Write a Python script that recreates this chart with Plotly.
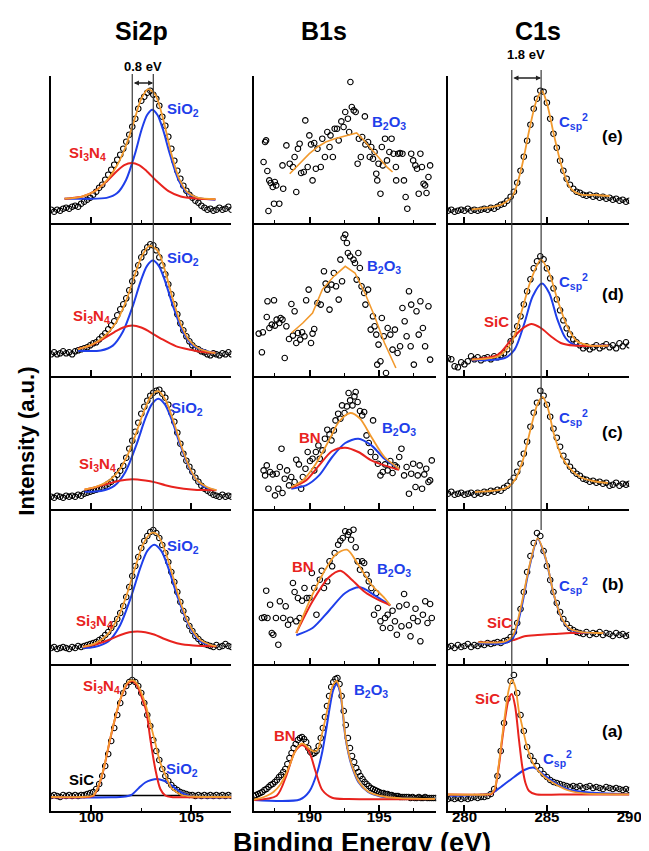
import numpy as np
import plotly.graph_objects as go

# ---------------- DATA (intensity in arbitrary units) ----------------
# Si2p: measured points on a 0.15 eV grid starting at 98.0 eV
si_start, si_step = 98.0, 0.15
si_e_pts = [13,11,13,12,14,15,14,16,17,16,19,21,23,25,28,31,35,38,43,48,53,58,63,68,74,81,88,96,104,114,122,126,130,132,128,124,117,106,97,86,74,62,52,44,37,32,28,25,22,20,17,15,13,14,12,13,15,13,14,16,13]
si_d_pts = [22,24,22,23,25,23,24,22,25,26,27,28,29,31,33,34,37,40,43,47,51,55,61,67,72,78,86,95,103,111,119,124,129,132,131,126,119,111,102,92,82,72,62,53,46,40,35,31,28,27,25,24,22,21,23,22,21,23,22,24,22]
si_c_pts = [12,11,13,12,11,13,12,13,12,14,13,15,16,17,18,19,20,21,23,25,27,30,34,38,43,51,60,68,77,86,95,102,108,113,116,118,119,115,111,104,96,87,76,65,55,48,42,37,31,27,23,20,18,16,14,13,12,14,12,13,12]
si_b_pts = [16,17,15,16,17,16,15,17,16,18,17,18,19,20,21,22,24,26,29,32,36,40,45,51,58,67,77,88,98,107,116,123,128,132,134,131,126,119,111,102,92,82,72,62,53,45,38,33,28,25,22,20,19,18,17,19,17,18,20,18,17]
si_a_pts = [15,16,15,14,16,15,16,15,16,15,16,16,17,18,19,22,27,35,45,57,70,83,96,108,118,125,129,131,129,125,118,108,96,85,71,60,51,42,35,30,26,23,21,19,18,17,16,16,15,16,15,16,15,16,15,16,15,16,15,16,15]

# Si2p fitted components: (energy, intensity)
si_e_sio2 = [(98.67,24),(99.8,24),(100.77,24.8),(101.3,29.6),(101.74,42.7),(102.18,68.5),(102.52,93.4),(102.79,107.7),(103.05,113),(103.31,107.7),(103.58,93.4),(103.93,68.5),(104.36,42.7),(104.8,29.6),(105.33,24.8),(106.2,23)]
si_e_si3n4 = [(98.67,24),(98.83,24.3),(99.57,26.2),(100.18,31.5),(100.8,41.9),(101.29,51.8),(101.65,57.6),(102.02,59.7),(102.39,57.6),(102.76,51.8),(103.25,41.9),(103.86,31.5),(104.47,26.2),(105.2,24.3),(106.2,23.5)]
si_e_sum = [(98.67,24),(99.5,25.9),(100.2,31.7),(100.8,42.8),(101.3,57.7),(101.7,75.2),(102.1,98.8),(102.5,123.8),(102.85,133.5),(103.2,128),(103.6,103),(104.0,69),(104.4,43.7),(104.8,30.6),(105.3,25.2),(106.2,23.5)]

si_d_sio2 = [(99.34,25.5),(100.48,25.8),(101.08,30.7),(101.58,44.5),(102.08,70.4),(102.48,95.7),(102.78,110.2),(103.08,115.7),(103.38,110.2),(103.68,95.7),(104.08,70.4),(104.58,44.5),(105.08,30.7),(105.68,25.8),(106.2,23)]
si_d_si3n4 = [(99.34,27.5),(99.88,30.2),(100.6,37.5),(101.18,44.5),(101.6,48.8),(102.05,50.7),(102.5,48.8),(102.92,44.5),(103.5,37.5),(104.22,30.2),(104.95,26.6),(105.6,24.3),(106.2,23.5)]
si_d_sum = [(99.34,27),(100.0,31.4),(100.6,38.8),(101.2,52.5),(101.7,73.2),(102.1,96.6),(102.5,119),(102.9,130.5),(103.3,126),(103.7,104.7),(104.1,75.4),(104.5,50.9),(104.9,35.8),(105.4,27.5),(106.2,23)]

si_c_sio2 = [(99.67,17),(100.49,17.8),(101.15,22.8),(101.7,36.5),(102.25,63.5),(102.69,89.5),(103.02,104.4),(103.35,110),(103.68,104.4),(104.01,89.5),(104.45,63.5),(105.0,36.5),(105.55,23),(106.21,18.5)]
si_c_si3n4 = [(99.67,19),(100.3,22),(100.9,25.3),(101.4,28),(102.05,29.5),(102.7,28.2),(103.2,26.3),(103.7,23.5),(104.3,21),(105.0,19.3),(105.6,18.6),(106.25,18.5)]
si_c_sum = [(99.67,19.2),(100.3,22.4),(100.9,28.3),(101.4,38.5),(101.8,52.8),(102.2,73),(102.6,95.8),(103.0,113.3),(103.35,117.5),(103.7,109.2),(104.1,87.9),(104.5,62.7),(104.9,41.5),(105.3,28),(105.8,21.4),(106.25,18.5)]

si_b_sio2 = [(99.59,16),(100.16,17),(100.85,22.5),(101.43,38.3),(102.0,67.7),(102.46,96.6),(102.8,113.1),(103.15,119.3),(103.5,113.1),(103.84,96.6),(104.3,67.7),(104.88,38.3),(105.45,22.5),(106.25,17.7)]
si_b_si3n4 = [(99.59,17.2),(100.2,19.5),(100.9,24.3),(101.46,29),(101.9,31.7),(102.3,32.5),(102.7,31.8),(103.14,29.5),(103.7,24.8),(104.4,20.2),(105.1,18.5),(106.25,17.7)]
si_b_sum = [(99.59,17.2),(100.2,20.6),(100.8,29.1),(101.4,49.1),(101.8,70.8),(102.2,96.8),(102.6,120.2),(103.0,131),(103.3,129.6),(103.7,112.5),(104.1,86),(104.5,59.2),(104.9,39.2),(105.4,24.8),(105.9,19.5),(106.25,17.7)]

si_a_si3n4 = [(98.0,13.7),(99.5,13.7),(100.1,15),(100.35,24),(100.6,40),(100.95,72),(101.25,97),(101.5,114),(101.8,127),(102.05,130),(102.3,125),(102.55,112),(102.75,100),(102.95,72),(103.2,42),(103.45,22),(103.7,15.5),(104.0,14),(105.0,13.7),(107.0,13.7)]
si_a_sio2 = [(98.0,13.7),(101.0,13.7),(101.7,14.5),(102.0,16),(102.38,23),(102.7,28.5),(103.0,31),(103.3,32),(103.6,30.5),(103.9,27.5),(104.18,23),(104.5,18.5),(104.8,15.5),(105.2,14),(107.0,13.7)]
si_a_sum = [(98.0,14),(99.5,14),(100.1,15.5),(100.35,24.5),(100.6,40.5),(100.95,72.5),(101.25,97.5),(101.5,114.5),(101.8,128),(102.05,131),(102.3,127),(102.55,116),(102.75,104),(102.95,88),(103.2,68),(103.38,53),(103.55,43),(103.7,36),(103.85,29),(104.0,23),(104.25,19),(104.5,16),(105.0,14.5),(107.0,14)]
si_a_sic = [(100.1,15.5),(105.0,15.5)]

# B1s measured points (energy, intensity)
b_e_pts = [(186.69,60.7),(186.8,80.7),(186.87,82.3),(186.96,51.7),(187.04,11.7),(187.1,42.3),(187.2,39.7),(187.35,35.7),(187.44,19),(187.5,40.7),(187.6,37.3),(187.82,19),(188.05,57.3),(188.1,34),(188.33,77.3),(188.57,59),(188.8,55.7),(188.92,65.7),(189.04,30.7),(189.16,74),(189.28,79),(189.39,49.7),(189.58,50.7),(189.69,102.3),(189.86,55.7),(189.98,87.3),(190.1,78.3),(190.21,42.3),(190.33,79.7),(190.45,54),(190.56,74),(190.8,55.7),(190.91,84),(191.1,65.7),(191.27,90.7),(191.43,75.7),(191.5,87.3),(191.67,65.7),(191.8,94),(191.97,94),(192.09,82.3),(192.28,101.3),(192.44,95.7),(192.56,110.7),(192.75,104),(192.84,90.7),(192.93,140.7),(193.03,115.7),(193.17,112.3),(193.31,110.7),(193.45,59),(193.54,84),(193.68,65.7),(193.78,85.7),(193.97,106.3),(194.01,78.3),(194.2,80.7),(194.32,65.7),(194.43,75.7),(194.55,64),(194.67,70.7),(194.79,49),(194.86,42.3),(194.95,59),(195.09,29),(195.19,75.7),(195.26,57.3),(195.42,84),(195.56,62.3),(195.73,70.7),(195.89,84),(196.03,69),(196.2,55.7),(196.22,42.3),(196.36,69),(196.5,69.7),(196.67,69),(196.78,42.3),(196.9,25.7),(197.02,14),(197.3,69),(197.44,62.3),(197.6,57.3),(197.72,54),(197.84,29),(197.96,69),(198.07,55.7),(198.19,39),(198.3,37.3),(198.4,29.7),(198.54,45.7),(198.66,57.3)]
b_d_pts = [(186.34,42.7),(186.57,24),(186.64,44),(186.92,59.3),(186.97,75),(187.11,48.3),(187.28,51.7),(187.44,76),(187.51,50.7),(187.63,56.7),(187.82,53.3),(187.91,58.3),(188.05,56.7),(188.21,18.3),(188.33,50),(188.52,37.3),(188.69,72.3),(188.8,40.7),(188.92,65),(189.04,33.3),(189.16,43.3),(189.32,36.7),(189.46,44),(189.63,40),(189.75,76),(189.93,86.7),(190.1,33.3),(190.21,42.7),(190.33,47.3),(190.56,73.3),(190.8,71.7),(191.03,105),(191.15,92.7),(191.27,86.7),(191.43,66.7),(191.57,91.7),(191.74,103.3),(191.9,90),(192.09,76.7),(192.21,116.7),(192.33,95),(192.44,138.3),(192.56,141.7),(192.68,133.3),(192.75,123.3),(192.91,120),(193.15,116.7),(193.26,113.3),(193.38,96.7),(193.5,123.3),(193.61,108.3),(193.73,90),(193.92,83.3),(194.01,71.7),(194.2,86.7),(194.39,46.7),(194.55,60),(194.67,50),(194.79,41.7),(194.86,11.7),(194.95,31.7),(195.09,15),(195.19,58.3),(195.33,40),(195.49,3.3),(195.61,48.3),(195.8,41.7),(195.96,26.7),(196.13,46.7),(196.32,23.3),(196.5,30),(196.67,68.3),(196.83,55),(196.97,40),(197.14,85),(197.26,30),(197.3,71.7),(197.49,11.7),(197.68,65),(197.84,41.7),(197.96,75),(198.14,48.3),(198.3,30),(198.54,70),(198.66,16.7)]
b_c_pts = [(186.69,38.3),(186.8,33.3),(186.92,43.3),(187.04,20),(187.16,36.7),(187.35,34.3),(187.51,13.3),(187.63,35),(187.75,20),(187.86,41.7),(187.98,60),(188.05,15.7),(188.21,30),(188.38,38.3),(188.52,23.3),(188.68,31.7),(188.92,26.7),(189.04,49),(189.23,44.3),(189.39,20),(189.51,31.7),(189.7,40),(189.86,56.7),(190.03,47.7),(190.21,50),(190.33,38.3),(190.45,56.7),(190.63,63.3),(190.73,50),(190.92,58.3),(191.1,70),(191.27,79),(191.43,74.3),(191.57,68.3),(191.74,78.3),(191.86,88.3),(192.05,95),(192.21,90),(192.33,103.3),(192.51,95.7),(192.68,102.3),(192.8,115.7),(192.91,108.3),(193.08,103.3),(193.22,112.3),(193.31,116.7),(193.45,106.7),(193.62,97.7),(193.78,93.3),(193.92,96.7),(194.09,73.3),(194.25,65.7),(194.39,56.7),(194.56,88.3),(194.72,51.7),(194.91,45),(195.09,33.3),(195.26,36.7),(195.42,44.3),(195.61,38.3),(195.8,47.7),(195.96,35.7),(196.13,43.3),(196.27,41.7),(196.44,51.7),(196.6,60),(196.79,33.3),(196.97,41.7),(197.14,15),(197.3,35),(197.44,45),(197.61,21.7),(197.77,33.3),(197.91,43.3),(198.08,20),(198.24,34.3),(198.38,40),(198.54,26.7),(198.66,28.3),(198.78,48.3)]
b_b_pts = [(186.57,46),(186.74,46.7),(186.88,73.3),(186.97,46),(187.16,59.3),(187.28,31),(187.39,29.3),(187.58,46),(187.75,19.3),(187.86,62.7),(188.1,46),(188.28,57.7),(188.45,39.3),(188.61,44.3),(188.8,81),(188.92,72),(189.04,42.7),(189.16,66),(189.28,46),(189.46,63.3),(189.63,76),(189.79,66),(189.98,66),(190.16,91),(190.33,76),(190.49,49.3),(190.73,84.3),(190.87,93.3),(191.03,76),(191.27,82.7),(191.43,102.7),(191.62,97.7),(191.8,111),(192.05,119.3),(192.21,123.3),(192.38,126),(192.56,132.7),(192.75,129.3),(192.84,132),(192.98,124.3),(193.15,134.3),(193.31,116.7),(193.45,102.7),(193.62,94.3),(193.78,102.7),(193.92,101),(194.09,89.3),(194.25,82.7),(194.44,76),(194.63,49.3),(194.79,71),(194.91,56),(195.09,42.7),(195.26,36),(195.42,46),(195.61,49.3),(195.8,36),(195.96,53.3),(196.13,42.7),(196.27,29.3),(196.44,57.7),(196.6,37.7),(196.79,70),(196.97,59.3),(197.14,38.7),(197.25,27.7),(197.44,46),(197.61,55.3),(197.77,42.7),(197.96,22.7),(198.14,49.3),(198.31,62.7),(198.47,41),(198.66,60),(198.78,46)]
b_start, b_step = 186.0, 0.15
b_a_pts = [15,16,17,18,19,21,22,24,26,27,29,31,34,36,39,42,47,53,58,63,67,71,73,74,72,69,63,59,57,58,60,65,73,83,94,105,115,124,129,132,133,127,115,100,86,73,63,55,49,43,39,35,32,29,27,25,23,22,21,20,19,18,18,17,17,16,16,15,15,15,14,14,14,14,14,13,14,13,13,14,13,13,14,13,13,13,13,13]

# B1s fitted curves
b_e_sum = [(188.57,49),(189.2,58),(189.98,69),(190.6,76),(191.15,80.7),(191.8,84),(192.33,85.7),(192.9,88),(193.38,89.7),(193.8,84),(194.2,77.3),(194.7,70),(195.14,62.3),(195.6,55),(195.96,50.7)]
b_d_sum = [(188.69,43.3),(189.51,53.3),(190.21,63.3),(190.91,86.7),(191.74,100),(192.56,110),(193.26,103.3),(193.97,83.3),(194.67,60),(195.38,33.3),(196.2,8.3)]
b_c_sum = [(188.68,21.7),(189.51,28.3),(190.45,45),(191.39,68.3),(192.09,86.7),(192.92,95.7),(193.62,90),(194.44,71.7),(195.38,51.7),(196.44,40)]
b_c_b2o3 = [(188.68,20),(189.74,23.3),(190.68,33.3),(191.62,51.7),(192.56,65.7),(193.5,70),(194.44,63.3),(195.38,50),(196.44,40)]
b_c_bn = [(188.68,21),(189.74,28.3),(190.68,43.3),(191.62,57.7),(192.56,61),(193.5,56.7),(194.44,48.3),(195.38,43.3),(196.44,39)]
b_b_sum = [(189.04,31),(189.98,62.7),(190.92,89.3),(191.86,109.3),(192.68,114.3),(193.5,99.3),(194.44,79.3),(195.38,66),(195.8,58.7)]
b_b_b2o3 = [(189.04,28.7),(190.21,36),(191.39,53.3),(192.56,71),(193.62,76.7),(194.67,68.7),(195.8,58.7)]
b_b_bn = [(189.04,31),(190.21,62.7),(191.39,86.7),(192.21,93.3),(193.03,84.3),(193.97,72),(194.91,64.3),(195.8,58.7)]
b_a_b2o3 = [(186.0,11),(189.3,11.5),(189.97,19.3),(190.56,39.3),(190.91,59.3),(191.2,82),(191.45,104),(191.7,121),(191.95,127),(192.2,118),(192.4,96),(192.56,75),(192.8,57),(193.03,45),(193.5,29),(194.2,19),(195.1,14.5),(196.5,12.5),(199.0,12)]
b_a_bn = [(186.0,11),(187.63,15.3),(188.34,36),(188.93,59),(189.46,66),(189.97,59),(190.44,39),(190.91,21),(191.62,13.3),(192.8,12),(199.0,12)]
b_a_sum = [(186.0,11.5),(186.5,13),(186.93,15.3),(187.4,19),(187.87,26),(188.3,37),(188.57,46),(188.9,58),(189.2,65),(189.45,67.7),(189.7,66),(190.0,62),(190.3,59.5),(190.56,61),(190.8,72),(191.1,90),(191.4,110),(191.65,125),(191.95,130),(192.2,120),(192.4,98),(192.56,76),(192.8,58),(193.03,46),(193.5,30),(194.2,19.5),(195.1,15),(196.5,12.8),(199.0,12)]

# C1s measured points on a 0.2 eV grid starting at 279.0 eV
c_start, c_step = 279.0, 0.2
c_e_pts = [12,13,11,12,13,12,14,12,13,12,13,14,13,15,14,16,18,19,22,26,31,40,52,66,82,98,114,124,132,131,120,104,89,75,62,52,44,38,34,31,30,28,27,28,26,27,25,26,24,25,23,24,22,23,21,22]
c_d_pts = [18,17,10,9,14,12,15,20,17,19,16,18,19,17,20,19,21,23,27,35,42,50,60,72,85,97,108,115,120,117,108,98,88,77,66,56,48,42,37,34,31,28,30,27,29,31,28,30,32,29,31,28,33,30,34,31]
c_c_pts = [15,17,14,15,16,14,15,16,14,16,15,17,16,18,17,19,18,21,23,27,31,37,45,55,67,82,96,106,118,113,104,92,80,71,62,53,47,42,38,35,33,30,29,27,28,26,27,25,26,23,24,26,23,25,24,25]
c_b_pts = [17,18,16,19,17,18,20,17,19,18,20,19,21,20,21,22,21,23,24,27,32,41,55,72,92,108,121,131,128,113,98,84,72,61,52,45,40,36,34,32,31,30,32,29,31,30,32,29,31,30,28,31,29,30,28,29]
c_a_pts = [12,13,12,13,12,13,12,13,14,13,14,14,15,17,22,35,60,88,112,130,136,118,96,80,64,55,50,45,41,37,34,31,29,28,27,26,25,24,25,24,25,23,24,25,23,24,23,22,24,23,22,23,22,21,22,21]

# C1s fitted curves
c_e_sum = [(280.44,13.3),(281.4,15),(282.27,18.3),(282.96,28.3),(283.46,55),(283.96,95),(284.36,121.7),(284.7,131.7),(285.02,118.3),(285.42,88.3),(285.92,55),(286.41,35),(287.01,28.3),(288.0,27.7),(288.8,26.7)]
c_d_sum = [(280.44,16.7),(282.04,20),(282.84,33.3),(283.44,63.3),(284.04,96.7),(284.64,116.7),(285.14,103.3),(285.64,76.7),(286.23,50),(286.83,35),(287.63,30.7),(288.73,30.7)]
c_d_csp2 = [(280.44,16),(282.44,18.3),(283.04,26.7),(283.64,53.3),(284.14,80),(284.7,92.7),(285.14,83.3),(285.64,56.7),(286.13,38.3),(286.63,31.7),(288.73,30.7)]
c_d_sic = [(280.44,16.7),(282.04,21.7),(282.84,36.7),(283.44,46.7),(284.04,52.3),(284.64,48.3),(285.24,40),(285.84,33.3),(286.63,30.7),(288.73,30.7)]
c_c_sum = [(280.64,16.7),(282.43,20),(283.04,28.3),(283.54,48.3),(284.04,81.7),(284.44,105),(284.74,111.7),(285.04,101.7),(285.42,75),(285.92,51.7),(286.41,40),(287.01,31.7),(287.8,27.7),(288.7,25.7)]
c_b_sum = [(280.84,21.7),(282.43,22.3),(282.93,28.3),(283.44,58.3),(283.94,98.3),(284.44,125.7),(284.94,105),(285.44,68.3),(285.93,45),(286.43,35),(287.23,31.7),(288.43,31)]
c_b_csp2 = [(280.84,21),(282.43,21),(282.93,25.7),(283.44,55),(283.94,96.7),(284.44,125),(284.94,104.5),(285.44,68),(285.93,44.7),(286.43,34.3),(287.23,31.5),(288.43,31)]
c_b_sic = [(280.84,21.7),(282.43,21.7),(283.04,24.3),(283.64,27.7),(284.44,29),(285.44,30),(286.43,31),(287.43,31),(288.43,31)]
c_a_sic = [(279.0,16.5),(281.3,16.5),(281.63,17),(281.83,21),(282.07,43),(282.27,69),(282.47,93),(282.67,111),(282.87,117),(283.07,105),(283.3,72),(283.5,45),(283.7,28),(283.92,20),(284.32,16.7),(285.8,16.5),(290.0,16.5)]
c_a_csp2 = [(279.1,15.3),(281.63,17.7),(282.23,24.3),(283.03,34.3),(283.63,41),(284.23,43.3),(284.83,36),(285.62,26.7),(286.42,21),(287.42,18.7),(290.0,16.7)]
c_a_sum = [(279.0,16.5),(281.3,16.5),(281.63,17.5),(281.83,22),(282.07,45),(282.27,72),(282.47,98),(282.67,120),(282.87,131),(283.07,125),(283.3,100),(283.53,82.7),(283.82,62.7),(284.22,46),(284.83,34.3),(285.42,27.7),(286.22,21),(287.22,17.7),(290.0,16.7)]

# reference peak positions (vertical guide lines)
si_guides = [102.05, 103.1]
c_guides = [282.87, 284.65]

# ---------------- LAYOUT / STYLE ----------------
W, H = 649, 851
ORANGE = "#F29A2E"
BLUE = "#1F3FEA"
RED = "#E8231E"
FONT = "Liberation Sans"

col_ranges = [[98, 107], [186, 199.1], [279, 290]]
col_tick0 = [100, 190, 280]
col_px = [(44, 228), (251, 437), (449, 634)]
row_px = [(68, 214.7), (214.7, 368.3), (368.3, 500.7), (500.7, 656), (656, 803)]
ticklabel_line_px = 798

fig = go.Figure()


def ax_id(r, c):
    return r * 3 + c + 1


def add_points(r, c, xs, ys):
    k = ax_id(r, c)
    fig.add_trace(go.Scatter(x=xs, y=ys, mode="markers", xaxis=f"x{k}", yaxis=f"y{k}",
                             marker=dict(symbol="circle-open", size=5.5, color="black",
                                         line=dict(width=1.1, color="black")),
                             showlegend=False, hoverinfo="skip"))


def add_curve(r, c, pts, color, width=2.0, shape="spline"):
    k = ax_id(r, c)
    xs = [p[0] for p in pts]
    ys = [p[1] for p in pts]
    fig.add_trace(go.Scatter(x=xs, y=ys, mode="lines", xaxis=f"x{k}", yaxis=f"y{k}",
                             line=dict(color=color, width=width, shape=shape,
                                       smoothing=0.8 if shape == "spline" else None),
                             showlegend=False, hoverinfo="skip"))


def grid(start, step, vals):
    return [round(start + step * i, 3) for i in range(len(vals))]


# Si2p column (c=0), rows 0..4 = (e)..(a)
for r, pts in enumerate([si_e_pts, si_d_pts, si_c_pts, si_b_pts, si_a_pts]):
    add_points(r, 0, grid(si_start, si_step, pts), pts)
for r, (blue, red, tot) in enumerate([(si_e_sio2, si_e_si3n4, si_e_sum),
                                      (si_d_sio2, si_d_si3n4, si_d_sum),
                                      (si_c_sio2, si_c_si3n4, si_c_sum),
                                      (si_b_sio2, si_b_si3n4, si_b_sum)]):
    add_curve(r, 0, blue, BLUE)
    add_curve(r, 0, red, RED)
    add_curve(r, 0, tot, ORANGE, 1.8)
add_curve(4, 0, si_a_sic, "black", 1.6, "linear")
add_curve(4, 0, si_a_sio2, BLUE)
add_curve(4, 0, si_a_si3n4, RED)
add_curve(4, 0, si_a_sum, ORANGE, 1.8)

# B1s column (c=1)
for r, pts in enumerate([b_e_pts, b_d_pts, b_c_pts, b_b_pts]):
    add_points(r, 1, [p[0] for p in pts], [p[1] for p in pts])
add_points(4, 1, grid(b_start, b_step, b_a_pts), b_a_pts)
add_curve(0, 1, b_e_sum, ORANGE, 1.6, "linear")
add_curve(1, 1, b_d_sum, ORANGE, 1.6, "linear")
add_curve(2, 1, b_c_b2o3, BLUE)
add_curve(2, 1, b_c_bn, RED)
add_curve(2, 1, b_c_sum, ORANGE, 1.8)
add_curve(3, 1, b_b_b2o3, BLUE)
add_curve(3, 1, b_b_bn, RED)
add_curve(3, 1, b_b_sum, ORANGE, 1.8)
add_curve(4, 1, b_a_b2o3, BLUE)
add_curve(4, 1, b_a_bn, RED)
add_curve(4, 1, b_a_sum, ORANGE, 1.8)

# C1s column (c=2)
for r, pts in enumerate([c_e_pts, c_d_pts, c_c_pts, c_b_pts, c_a_pts]):
    add_points(r, 2, grid(c_start, c_step, pts), pts)
add_curve(0, 2, c_e_sum, ORANGE, 1.8)
add_curve(1, 2, c_d_csp2, BLUE)
add_curve(1, 2, c_d_sic, RED)
add_curve(1, 2, c_d_sum, ORANGE, 1.8)
add_curve(2, 2, c_c_sum, ORANGE, 1.8)
add_curve(3, 2, c_b_sic, RED)
add_curve(3, 2, c_b_csp2, BLUE)
add_curve(3, 2, c_b_sum, ORANGE, 1.8)
add_curve(4, 2, c_a_csp2, BLUE)
add_curve(4, 2, c_a_sic, RED)
add_curve(4, 2, c_a_sum, ORANGE, 1.8)

# axes
layout_axes = {}
for r in range(5):
    top, bot = row_px[r]
    for c in range(3):
        k = ax_id(r, c)
        left, right = col_px[c]
        xname = "xaxis" if k == 1 else f"xaxis{k}"
        yname = "yaxis" if k == 1 else f"yaxis{k}"
        layout_axes[xname] = dict(
            domain=[left / W, right / W], range=col_ranges[c], anchor=f"y{k}",
            showline=True, linewidth=2, linecolor="black", mirror=False,
            ticks="inside", ticklen=6, tickwidth=1.6, tickcolor="black",
            tick0=col_tick0[c], dtick=5,
            minor=dict(dtick=2.5, tick0=col_tick0[c], ticks="inside", ticklen=3,
                       tickwidth=1.4, tickcolor="black", showgrid=False),
            showticklabels=False,
            showgrid=False, zeroline=False, fixedrange=True)
        layout_axes[yname] = dict(
            domain=[1 - bot / H, 1 - top / H], range=[0, bot - top], anchor=f"x{k}",
            showline=True, linewidth=2, linecolor="black", ticks="",
            showticklabels=False, showgrid=False, zeroline=False, fixedrange=True)

# tick-label axes for the bottom row (placed slightly above the axis line, as in the figure)
for c in range(3):
    k = 16 + c
    base = ax_id(4, c)
    left, right = col_px[c]
    layout_axes[f"xaxis{k}"] = dict(
        domain=[left / W, right / W], range=col_ranges[c], overlaying=f"x{base}",
        anchor="free", position=1 - ticklabel_line_px / H, side="bottom",
        showline=False, ticks="", tick0=col_tick0[c], dtick=5, showticklabels=True,
        tickfont=dict(family=FONT, size=15, color="black", weight="bold"),
        showgrid=False, zeroline=False, fixedrange=True)
    fig.add_trace(go.Scatter(x=col_ranges[c], y=[0, 0], mode="markers", xaxis=f"x{k}",
                             yaxis=f"y{base}", marker=dict(opacity=0), showlegend=False,
                             hoverinfo="skip"))

fig.update_layout(**layout_axes)

# vertical guide lines spanning the stacked panels
shapes = [
    dict(type="line", xref="x13", yref="paper", x0=si_guides[0], x1=si_guides[0],
         y0=1 - 672 / H, y1=1 - 66 / H, line=dict(color="#3a3a3a", width=1.2)),
    dict(type="line", xref="x13", yref="paper", x0=si_guides[1], x1=si_guides[1],
         y0=1 - 522 / H, y1=1 - 66 / H, line=dict(color="#3a3a3a", width=1.2)),
    dict(type="line", xref="x15", yref="paper", x0=c_guides[0], x1=c_guides[0],
         y0=1 - 668 / H, y1=1 - 62 / H, line=dict(color="#3a3a3a", width=1.2)),
    dict(type="line", xref="x15", yref="paper", x0=c_guides[1], x1=c_guides[1],
         y0=1 - 522 / H, y1=1 - 62 / H, line=dict(color="#3a3a3a", width=1.2)),
]

ann = []


def txt(x, y, text, size=14, color="black", xref="paper", yref="paper", **kw):
    ann.append(dict(x=x, y=y, xref=xref, yref=yref, text=text, showarrow=False,
                    font=dict(family=FONT, size=size, color=color, weight="bold"),
                    xanchor="center", yanchor="middle", **kw))


# column titles and axis titles
txt(136 / W, 1 - 23 / H, "Si2p", 25)
txt(322 / W, 1 - 23 / H, "B1s", 25)
txt(541 / W, 1 - 23 / H, "C1s", 25)
txt(18 / W, 1 - 433 / H, "Intensity (a.u.)", 22, textangle=-90)
txt(361 / W, 1 - 835 / H, "Binding Energy (eV)", 27)

# energy-shift arrows
for xr_, yr_, guides, ypos in [("x1", "y1", si_guides, 214.7 - 75), ("x3", "y3", c_guides, 214.7 - 70)]:
    ann.append(dict(x=guides[1], y=ypos, xref=xr_, yref=yr_, ax=guides[0], ay=ypos,
                    axref=xr_, ayref=yr_, text="", showarrow=True, arrowhead=2,
                    arrowside="end+start", arrowsize=0.8, arrowwidth=1.3,
                    arrowcolor="#222", standoff=0, startstandoff=0))
txt(sum(si_guides) / 2, 1 - 58 / H, "0.8 eV", 13, xref="x1", yref="paper")
txt(sum(c_guides) / 2, 1 - 47 / H, "1.8 eV", 13, xref="x3", yref="paper")

SIO2 = "SiO<sub>2</sub>"
SI3N4 = "Si<sub>3</sub>N<sub>4</sub>"
B2O3 = "B<sub>2</sub>O<sub>3</sub>"
CSP2 = "C<sub>sp</sub><sup>2</sup>"
labels = [
    (0, 0, 104.58, 113, SIO2, BLUE), (0, 0, 99.84, 69.7, SI3N4, RED),
    (1, 0, 104.58, 118.3, SIO2, BLUE), (1, 0, 100.0, 60, SI3N4, RED),
    (2, 0, 104.76, 100.7, SIO2, BLUE), (2, 0, 100.33, 44, SI3N4, RED),
    (3, 0, 104.6, 117.7, SIO2, BLUE), (3, 0, 100.16, 42.7, SI3N4, RED),
    (4, 0, 100.5, 124.7, SI3N4, RED), (4, 0, 104.51, 41.3, SIO2, BLUE), (4, 0, 99.5, 31.3, "SiC", "black"),
    (0, 1, 195.73, 100.7, B2O3, BLUE), (1, 1, 195.37, 110, B2O3, BLUE),
    (2, 1, 190.02, 71.7, "BN", RED), (2, 1, 196.43, 80, B2O3, BLUE),
    (3, 1, 189.5, 97.7, "BN", RED), (3, 1, 196.08, 94.3, B2O3, BLUE),
    (4, 1, 188.22, 76, "BN", RED), (4, 1, 194.4, 121, B2O3, BLUE),
    (0, 2, 286.62, 101.7, CSP2, BLUE), (1, 2, 286.62, 95, CSP2, BLUE), (1, 2, 281.93, 55, "SiC", RED),
    (2, 2, 286.62, 91.7, CSP2, BLUE), (3, 2, 286.62, 78.3, CSP2, BLUE), (3, 2, 282.13, 41.7, "SiC", RED),
    (4, 2, 285.62, 52.7, CSP2, BLUE), (4, 2, 281.4, 113, "SiC", RED),
]
for r, c, x, y, t, col in labels:
    k = ax_id(r, c)
    txt(x, y, t, 15, col, xref=f"x{k}", yref=f"y{k}")
for r, (y, t) in enumerate([(86.7, "(e)"), (81.7, "(d)"), (76.7, "(c)"), (80, "(b)"), (79.3, "(a)")]):
    k = ax_id(r, 2)
    txt(289.0, y, t, 17, xref=f"x{k}", yref=f"y{k}")

fig.update_layout(width=W, height=H, margin=dict(l=0, r=0, t=0, b=0),
                  paper_bgcolor="white", plot_bgcolor="white",
                  shapes=shapes, annotations=ann, showlegend=False,
                  font=dict(family=FONT))

fig.write_html("out.html")
